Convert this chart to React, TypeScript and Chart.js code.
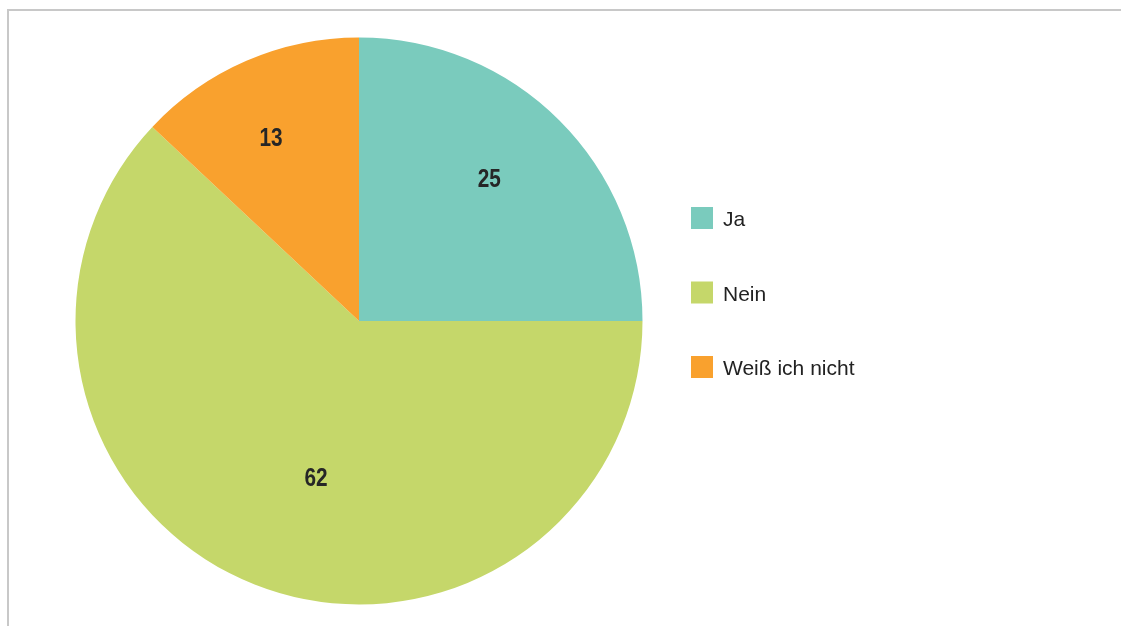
import React, { useEffect, useRef } from "react";
import { Chart, registerables } from "chart.js";

Chart.register(...registerables);

const categories = ["Ja", "Nein", "Weiß ich nicht"];
const values = [25, 62, 13];
const colors = ["#7ACBBD", "#C5D76A", "#F9A12E"];

// label placement styling (radius fraction and angle tweak in degrees per slice)
const labelRadius = [0.68, 0.575, 0.716];
const labelAngleTweak = [-2.5, -6.3, -2.3];

const labelPlugin = {
  id: "sliceLabels",
  afterDatasetsDraw(chart: any) {
    const ctx = chart.ctx;
    const meta = chart.getDatasetMeta(0);
    meta.data.forEach((arc: any, i: number) => {
      const { x, y, startAngle, endAngle, outerRadius } = arc.getProps(
        ["x", "y", "startAngle", "endAngle", "outerRadius"],
        true
      );
      const mid = (startAngle + endAngle) / 2 + (labelAngleTweak[i] * Math.PI) / 180;
      const r = outerRadius * labelRadius[i];
      const lx = x + Math.cos(mid) * r;
      const ly = y + Math.sin(mid) * r;
      ctx.save();
      ctx.translate(lx, ly);
      ctx.scale(0.8, 1);
      ctx.font = "bold 26px 'Liberation Sans', Arial, sans-serif";
      ctx.fillStyle = "#262626";
      ctx.textAlign = "center";
      ctx.textBaseline = "middle";
      ctx.fillText(String(chart.data.datasets[0].data[i]), 0, 1);
      ctx.restore();
    });
  },
};

const legendPlugin = {
  id: "sideLegend",
  afterDraw(chart: any) {
    const ctx = chart.ctx;
    const labels = chart.data.labels as string[];
    const bg = chart.data.datasets[0].backgroundColor as string[];
    ctx.save();
    ctx.font = "21px 'Liberation Sans', Arial, sans-serif";
    ctx.textBaseline = "middle";
    ctx.textAlign = "left";
    const x0 = 691;
    const y0 = 207;
    const step = 74.5;
    labels.forEach((lab, i) => {
      const y = y0 + i * step;
      ctx.fillStyle = bg[i];
      ctx.fillRect(x0, y, 22, 22);
      ctx.fillStyle = "#222222";
      ctx.fillText(lab, x0 + 32, y + 13.5);
    });
    ctx.restore();
  },
};

export default function App() {
  const ref = useRef<HTMLCanvasElement | null>(null);
  useEffect(() => {
    document.body.style.margin = "0";
    const chart = new Chart(ref.current!, {
      type: "pie",
      data: {
        labels: categories,
        datasets: [
          {
            data: values,
            backgroundColor: colors,
            borderWidth: 0,
            hoverOffset: 0,
          },
        ],
      },
      options: {
        animation: false,
        responsive: false,
        maintainAspectRatio: false,
        layout: { padding: { top: 37.5, bottom: 21.5, left: 75.5, right: 478.5 } },
        plugins: {
          legend: { display: false },
          tooltip: { enabled: false },
        },
      },
      plugins: [labelPlugin, legendPlugin],
    });
    return () => chart.destroy();
  }, []);
  return (
    <div style={{ position: "fixed", left: 0, top: 0, width: 1121, height: 626, background: "#fff", overflow: "hidden" }}>
      <div
        style={{
          position: "absolute",
          left: 7,
          top: 9,
          width: 1200,
          height: 700,
          borderLeft: "2px solid #c8c8c8",
          borderTop: "2px solid #c8c8c8",
        }}
      />
      <canvas ref={ref} width={1121} height={626} style={{ position: "absolute", left: 0, top: 0 }} />
    </div>
  );
}
